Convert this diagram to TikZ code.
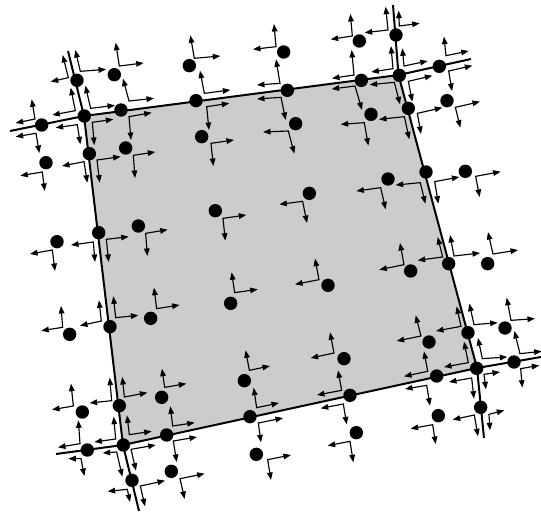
\documentclass[tikz,border=0pt]{standalone}
\usetikzlibrary{arrows.meta}
\tikzset{
  ax/.style={{Triangle[length=7.5pt,width=5.6pt]}-{Triangle[length=7.5pt,width=5.6pt]},line width=1.15pt,line join=miter},
  pt/.style={circle,fill=black,inner sep=0pt,minimum size=13.4pt},
  edge/.style={line width=2pt,line cap=butt},
  zoomed/.style={x=0.33333pt,y=-0.33333pt}
}
\newcommand{\ap}[3]{\draw[ax] (#2) -- (#1) -- (#3);}
\begin{document}
\begin{tikzpicture}[x=1pt,y=-1pt]
\useasboundingbox (0,0) rectangle (541,514);
\coordinate (tl) at (84,116); \coordinate (tr) at (398.5,75);
\coordinate (br) at (477,368); \coordinate (bl) at (123,445);
\coordinate (t1) at (10,131); \coordinate (t2) at (471,59);
\coordinate (b1) at (56,454); \coordinate (b2) at (541,357);
\coordinate (l1) at (68,51);  \coordinate (l2) at (139,511);
\coordinate (r1) at (393,5);  \coordinate (r2) at (484,438);
\fill[black!20] (tl) -- (tr) -- (br) -- (bl) -- cycle;
\draw[edge] (t1) -- (tl) -- (tr) -- (t2);
\draw[edge] (b1) -- (bl) -- (br) -- (b2);
\draw[edge] (l1) -- (tl) -- (bl) -- (l2);
\draw[edge] (r1) -- (tr) -- (br) -- (r2);
% top-left
\begin{scope}[shift={(0,0)},zoomed]
\foreach \n/\p in {a1/{231,241},a2/{343,224},a3/{568,197},a4/{253,348},a5/{363,330},a6/{588,302},a7/{125,375},a8/{268,461},a9/{377,444},a10/{605,410},a11/{138,488},a12/{646,632},a13/{415,678},a14/{296,698},a15/{171,725}}
  \node[pt] (\n) at (\p) {};
\ap{358,198}{347,128}{431,189}
\ap{583,175}{571,106}{661,168}
\ap{205,233}{152,245}{188,165}
\ap{241,214}{226,150}{318,208}
\ap{226,332}{157,345}{212,263}
\ap{272,325}{256,257}{345,316}
\ap{232,374}{167,383}{241,433}
\ap{277,367}{340,358}{283,435}
\ap{387,303}{369,236}{462,295}
\ap{387,350}{455,338}{393,420}
\ap{613,280}{600,212}{691,270}
\ap{620,320}{688,310}{627,390}
\ap{105,357}{95,298}{47,369}
\ap{108,400}{47,410}{118,459}
\ap{252,485}{186,498}{262,548}
\ap{291,480}{362,470}{299,548}
\ap{400,466}{466,456}{405,534}
\ap{633,430}{702,420}{640,498}
\ap{127,516}{61,527}{134,573}
\ap{669,655}{739,645}{676,722}
\ap{437,700}{503,689}{442,768}
\ap{280,726}{213,735}{285,786}
\ap{319,718}{386,710}{326,786}
\ap{157,750}{90,762}{165,813}
\end{scope}
% top-right
\begin{scope}[shift={(270,0)},zoomed]
\foreach \n/\p in {b1x/{41,156},b2x/{268,123},b3/{378,105},b4/{77,371},b5/{52,271},b6/{274,241},b7/{388,226},b8/{508,199},b9/{415,325},b10/{531,302},b11/{303,343},b12/{468,516},b13/{586,514},b14/{354,537},b15/{118,580}}
  \node[pt] (\n) at (\p) {};
\ap{18,140}{12,72}{-51,148}
\ap{247,108}{182,118}{241,42}
\ap{354,90}{284,98}{347,20}
\ap{388,78}{386,32}{449,70}
\ap{55,393}{-21,396}{73,461}
\ap{30,250}{18,178}{-39,255}
\ap{33,292}{-39,297}{47,360}
\ap{252,225}{186,235}{245,150}
\ap{255,258}{185,267}{276,330}
\ap{369,206}{304,216}{363,138}
\ap{402,198}{397,145}{473,183}
\ap{373,247}{299,254}{390,313}
\ap{415,244}{487,227}{427,305}
\ap{528,167}{522,110}{596,153}
\ap{536,213}{607,197}{546,273}
\ap{403,350}{327,358}{418,418}
\ap{442,340}{517,323}{453,402}
\ap{556,322}{630,305}{571,383}
\ap{283,368}{212,373}{295,437}
\ap{451,548}{377,555}{466,611}
\ap{494,545}{568,531}{505,611}
\ap{617,529}{692,515}{629,591}
\ap{332,563}{259,573}{347,628}
\ap{98,604}{28,613}{111,669}
\end{scope}
% bottom-left
\begin{scope}[shift={(0,257)},zoomed]
\foreach \n/\p in {c1/{452,184},c2/{692,139},c3/{330,209},c4/{209,232},c5/{485,421},c6/{733,371},c7/{247,465},c8/{358,446},c9/{500,534},c10/{750,479},c11/{262,579},c12/{370,564},c13/{514,643},c14/{769,592},c15/{396,670}}
  \node[pt] (\n) at (\p) {};
\ap{470,155}{462,92}{539,144}
\ap{704,107}{695,46}{773,97}
\ap{304,192}{240,206}{297,130}
\ap{347,182}{340,118}{415,175}
\ap{188,211}{183,147}{124,221}
\ap{494,391}{486,335}{559,380}
\ap{748,340}{737,280}{810,327}
\ap{220,447}{213,380}{156,458}
\ap{335,431}{269,438}{329,362}
\ap{373,420}{367,360}{442,407}
\ap{518,507}{511,448}{584,497}
\ap{520,552}{591,540}{530,615}
\ap{770,452}{761,392}{837,438}
\ap{775,498}{849,483}{783,556}
\ap{240,560}{235,490}{174,571}
\ap{243,605}{205,605}{253,657}
\ap{347,546}{341,479}{283,555}
\ap{388,533}{381,475}{455,523}
\ap{350,585}{308,588}{367,659}
\ap{393,577}{467,564}{408,641}
\ap{540,665}{614,650}{554,726}
\ap{803,608}{873,594}{813,669}
\ap{382,697}{323,703}{390,735}
\ap{421,687}{495,671}{435,748}
\end{scope}
% bottom-right
\begin{scope}[shift={(270,257)},zoomed]
\foreach \n/\p in {d1/{174,85},d2/{422,42},d3/{536,20},d4/{653,20},d5/{477,255},d6/{594,227},d7/{705,213},d8/{222,305},d9/{500,357},d10/{620,334},d11/{732,315},d12/{240,415},d13/{632,451},d14/{505,476},d15/{259,527}}
  \node[pt] (\n) at (\p) {};
\ap{147,68}{135,5}{75,82}
\ap{402,23}{328,38}{390,-42}
\ap{518,0}{443,10}{503,-60}
\ap{552,-3}{540,-66}{630,-12}
\ap{669,-9}{654,-75}{744,-21}
\ap{453,237}{437,175}{380,252}
\ap{573,208}{560,148}{498,222}
\ap{612,203}{598,140}{683,197}
\ap{723,190}{710,122}{795,185}
\ap{192,288}{180,226}{122,303}
\ap{473,343}{462,283}{402,358}
\ap{470,385}{405,396}{480,446}
\ap{595,317}{582,254}{522,330}
\ap{637,305}{624,243}{712,300}
\ap{605,363}{537,375}{612,425}
\ap{642,352}{690,345}{648,397}
\ap{750,290}{733,222}{815,283}
\ap{752,335}{808,325}{757,392}
\ap{215,400}{204,340}{141,414}
\ap{220,441}{152,454}{230,502}
\ap{613,474}{548,488}{624,538}
\ap{657,472}{703,460}{660,520}
\ap{488,503}{422,515}{497,561}
\ap{240,553}{173,566}{250,616}
\end{scope}
\end{tikzpicture}
\end{document}
